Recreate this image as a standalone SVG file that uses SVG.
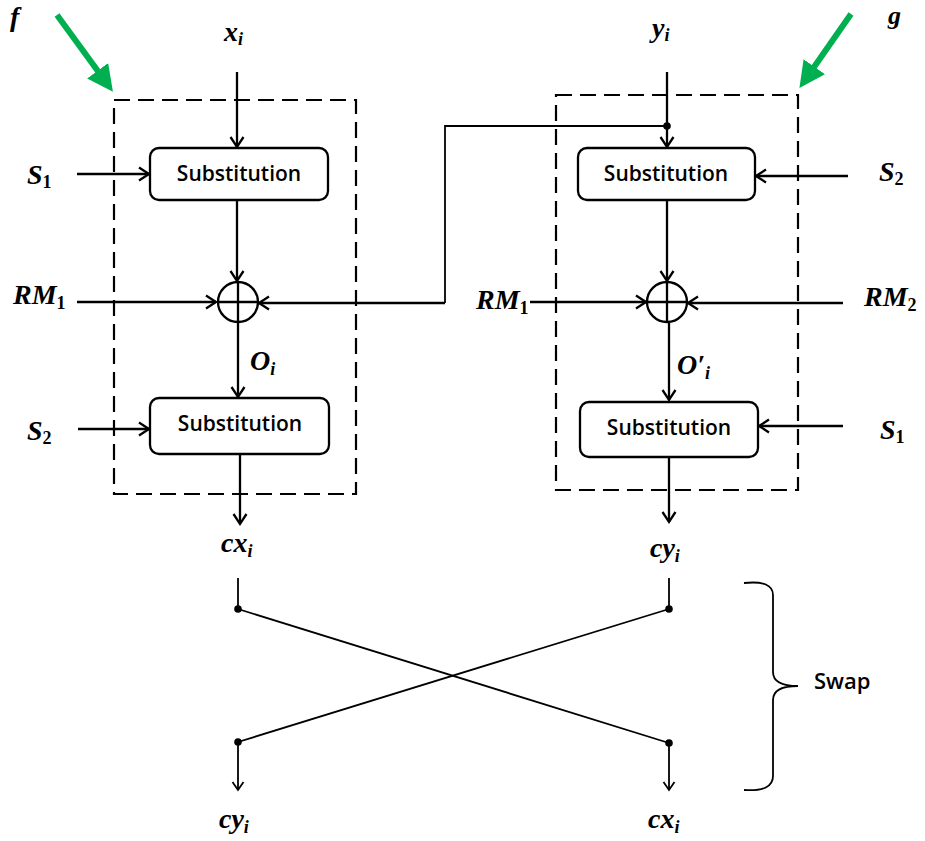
<svg xmlns="http://www.w3.org/2000/svg" width="925" height="841" viewBox="0 0 925 841">
<style>
.ln{fill:none;stroke:#000;stroke-width:2.3}
.thin{fill:none;stroke:#000;stroke-width:1.8}
.dash{fill:none;stroke:#000;stroke-width:2.2;stroke-dasharray:16 8}
.box{fill:#fff;stroke:#000;stroke-width:2.3}
.bt{font-family:"Open Sans",sans-serif;font-size:21px;font-weight:600;text-anchor:middle}
.m{font-family:"Liberation Serif",serif;font-size:28px;font-weight:bold;font-style:italic}
.sub{font-size:18px}
.num{font-style:normal}
.sw{font-family:"Open Sans",sans-serif;font-size:22px;font-weight:600}
.green{fill:none;stroke:#00b050;stroke-width:6}
</style>
<defs>
<marker id="ah" markerWidth="16" markerHeight="16" refX="12" refY="8" orient="auto" markerUnits="userSpaceOnUse">
<path d="M2,1.5 L12,8 L2,14.5" fill="none" stroke="#000" stroke-width="2.3"/>
</marker>
<marker id="ahs" markerWidth="14" markerHeight="14" refX="11" refY="7" orient="auto" markerUnits="userSpaceOnUse">
<path d="M3,1.5 L11,7 L3,12.5" fill="none" stroke="#000" stroke-width="1.8"/>
</marker>
<marker id="gh" markerWidth="32" markerHeight="32" refX="4" refY="16" orient="auto" markerUnits="userSpaceOnUse">
<path d="M0,3 L26,16 L0,29 Z" fill="#00b050"/>
</marker>
</defs>

<g id="f-block">
<rect class="dash" x="114" y="100" width="242" height="394"/>
</g>
<g id="g-block">
<rect class="dash" x="556" y="95" width="242" height="395"/>
</g>

<g id="green-arrows">
<line class="green" x1="57" y1="15" x2="100" y2="74" marker-end="url(#gh)"/>
<line class="green" x1="851" y1="14" x2="812" y2="70" marker-end="url(#gh)"/>
</g>

<g id="connectors">
<line class="ln" x1="237" y1="72" x2="237" y2="147" marker-end="url(#ah)"/>
<line class="ln" x1="77" y1="174" x2="149" y2="174" marker-end="url(#ah)"/>
<line class="ln" x1="237" y1="200" x2="237" y2="281" marker-end="url(#ah)"/>
<line class="ln" x1="77" y1="302" x2="216" y2="302" marker-end="url(#ah)"/>
<polyline class="thin" points="667,126 445,126 445,303"/>
<line class="ln" x1="445" y1="303" x2="259" y2="303" marker-end="url(#ah)"/>
<line class="ln" x1="238" y1="323" x2="238" y2="397" marker-end="url(#ah)"/>
<line class="ln" x1="78" y1="429" x2="149" y2="429" marker-end="url(#ah)"/>
<line class="ln" x1="240" y1="455" x2="240" y2="524" marker-end="url(#ah)"/>

<line class="ln" x1="667" y1="72" x2="667" y2="147" marker-end="url(#ah)"/>
<circle cx="667" cy="126" r="3.8" fill="#000"/>
<line class="ln" x1="848" y1="176" x2="756" y2="176" marker-end="url(#ah)"/>
<line class="ln" x1="667" y1="200" x2="667" y2="281" marker-end="url(#ah)"/>
<line class="ln" x1="530" y1="302" x2="646" y2="302" marker-end="url(#ah)"/>
<line class="ln" x1="843" y1="303" x2="688" y2="303" marker-end="url(#ah)"/>
<line class="ln" x1="669" y1="323" x2="669" y2="400" marker-end="url(#ah)"/>
<line class="ln" x1="843" y1="426" x2="759" y2="426" marker-end="url(#ah)"/>
<line class="ln" x1="669" y1="457" x2="669" y2="522" marker-end="url(#ah)"/>

<line class="thin" x1="238" y1="578" x2="238" y2="609"/>
<line class="thin" x1="669" y1="578" x2="669" y2="609"/>
<line class="thin" x1="238" y1="609" x2="669" y2="743"/>
<line class="thin" x1="669" y1="609" x2="238" y2="742"/>
<circle cx="238" cy="609" r="3.8" fill="#000"/>
<circle cx="669" cy="609" r="3.8" fill="#000"/>
<circle cx="238" cy="742" r="3.8" fill="#000"/>
<circle cx="669" cy="743" r="3.8" fill="#000"/>
<line class="thin" x1="238" y1="742" x2="238" y2="790" marker-end="url(#ahs)"/>
<line class="thin" x1="669" y1="743" x2="669" y2="790" marker-end="url(#ahs)"/>
<path class="thin" d="M744,583 Q773,580 773,595 L773,672 Q773,686 798,686 Q773,686 773,700 L773,776 Q773,792 744,790"/>
</g>

<g id="sub-f1">
<rect class="box" x="150" y="148" width="178" height="52" rx="9"/>
<text class="bt" x="239" y="181">Substitution</text>
</g>
<g id="xor-f">
<circle class="ln" cx="238" cy="302" r="20"/>
<line class="ln" x1="218" y1="302" x2="258" y2="302"/>
<line class="ln" x1="238" y1="282" x2="238" y2="322"/>
</g>
<g id="sub-f2">
<rect class="box" x="150" y="398" width="179" height="56" rx="9"/>
<text class="bt" x="240" y="431">Substitution</text>
</g>
<g id="sub-g1">
<rect class="box" x="578" y="148" width="177" height="52" rx="9"/>
<text class="bt" x="666" y="181">Substitution</text>
</g>
<g id="xor-g">
<circle class="ln" cx="667" cy="302" r="20"/>
<line class="ln" x1="647" y1="302" x2="687" y2="302"/>
<line class="ln" x1="667" y1="282" x2="667" y2="322"/>
</g>
<g id="sub-g2">
<rect class="box" x="580" y="402" width="178" height="55" rx="9"/>
<text class="bt" x="669" y="435">Substitution</text>
</g>

<g id="labels">
<text class="m" x="10" y="26">f</text>
<text class="m" x="888" y="24" style="font-size:26px">g</text>
<text class="m" x="224" y="41">x<tspan class="sub" dy="4">i</tspan></text>
<text class="m" x="652" y="37">y<tspan class="sub" dy="4">i</tspan></text>
<text class="m" x="27" y="184">S<tspan class="sub num" dy="4">1</tspan></text>
<text class="m" x="13" y="304">RM<tspan class="sub num" dy="5">1</tspan></text>
<text class="m" x="250" y="370">O<tspan class="sub" dy="5">i</tspan></text>
<text class="m" x="27" y="440">S<tspan class="sub num" dy="4">2</tspan></text>
<text class="m" x="221" y="552">cx<tspan class="sub" dy="5">i</tspan></text>
<text class="m" x="879" y="181">S<tspan class="sub num" dy="4">2</tspan></text>
<text class="m" x="476" y="309">RM<tspan class="sub num" dy="5">1</tspan></text>
<text class="m" x="864" y="306">RM<tspan class="sub num" dy="5">2</tspan></text>
<text class="m" x="677" y="374">O′<tspan class="sub" dy="5">i</tspan></text>
<text class="m" x="880" y="439">S<tspan class="sub num" dy="4">1</tspan></text>
<text class="m" x="650" y="557">cy<tspan class="sub" dy="5">i</tspan></text>
<text class="m" x="219" y="828">cy<tspan class="sub" dy="5">i</tspan></text>
<text class="m" x="648" y="828">cx<tspan class="sub" dy="5">i</tspan></text>
<text class="sw" x="814" y="689">Swap</text>
</g>
</svg>
